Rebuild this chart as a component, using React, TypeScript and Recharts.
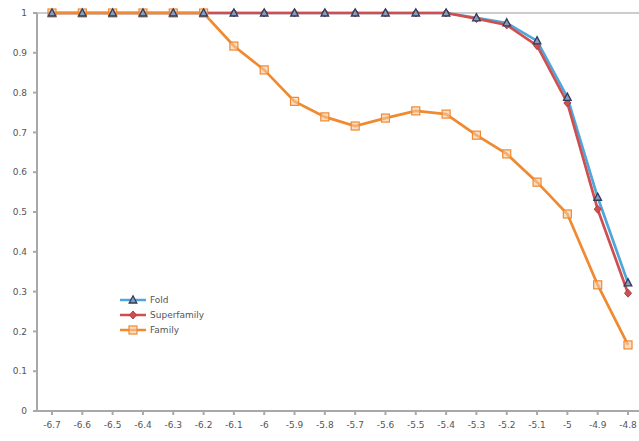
import React from "react";
import { LineChart, Line, XAxis, YAxis, ReferenceLine } from "recharts";

const categories = ["-6.7","-6.6","-6.5","-6.4","-6.3","-6.2","-6.1","-6","-5.9","-5.8","-5.7","-5.6","-5.5","-5.4","-5.3","-5.2","-5.1","-5","-4.9","-4.8"];
const fold = [1,1,1,1,1,1,1,1,1,1,1,1,1,1,0.988,0.975,0.93,0.788,0.537,0.322];
const superfamily = [1,1,1,1,1,1,1,1,1,1,1,1,1,1,0.986,0.97,0.918,0.774,0.507,0.296];
const family = [1,1,1,1,1,1,0.917,0.857,0.778,0.739,0.716,0.736,0.754,0.746,0.693,0.646,0.575,0.495,0.317,0.166];
const yTicks = [0,0.1,0.2,0.3,0.4,0.5,0.6,0.7,0.8,0.9,1];

const data = categories.map((c, i) => ({ x: c, fold: fold[i], superfamily: superfamily[i], family: family[i] }));

const BLUE = "#4ea6dc";
const RED = "#cf4f50";
const ORANGE = "#f0892f";

const Tri = (p: any) => {
  const { cx, cy } = p;
  if (cx == null || cy == null) return null;
  return <path d={`M${cx},${cy - 4.2} L${cx + 3.8},${cy + 3} L${cx - 3.8},${cy + 3} Z`} fill="#8a9ab8" stroke="#2e3d5c" strokeWidth={1.3} />;
};
const Dia = (p: any) => {
  const { cx, cy } = p;
  if (cx == null || cy == null) return null;
  return <path d={`M${cx},${cy - 4} L${cx + 3.5},${cy} L${cx},${cy + 4} L${cx - 3.5},${cy} Z`} fill={RED} stroke="#b04040" strokeWidth={1} />;
};
const Sq = (p: any) => {
  const { cx, cy } = p;
  if (cx == null || cy == null) return null;
  return <rect x={cx - 4} y={cy - 4} width={8} height={8} fill="#f6caa2" fillOpacity={0.6} stroke={ORANGE} strokeWidth={1.2} />;
};

const legendItems = [
  { name: "Fold", color: BLUE, M: Tri },
  { name: "Superfamily", color: RED, M: Dia },
  { name: "Family", color: ORANGE, M: Sq },
];

const LegendBox = () => (
  <svg width={110} height={48} style={{ position: "absolute", left: 118, top: 293 }}>
    {legendItems.map((it, i) => {
      const y = 7 + i * 15;
      const M = it.M;
      return (
        <g key={it.name}>
          <line x1={2} x2={28} y1={y} y2={y} stroke={it.color} strokeWidth={2.5} />
          <M cx={15} cy={y} />
          <text x={32} y={y + 3} fontSize={9} fill="#555" fontFamily="DejaVu Sans">{it.name}</text>
        </g>
      );
    })}
  </svg>
);

export default function App() {
  return (
    <div style={{ position: "absolute", left: 0, top: 0, width: 639, height: 441, overflow: "hidden", background: "#fff" }}>
      <LineChart width={639} height={441} data={data} margin={{ top: 13, right: 0, bottom: 8, left: 7 }}>
        <ReferenceLine y={1} stroke="#9a9a9a" strokeWidth={1.2} />
        <XAxis dataKey="x" stroke="#a8a8a8" strokeWidth={2} tickSize={4} tickMargin={7} height={22}
          padding={{ left: 15, right: 11 }}
          tick={{ fontSize: 9, fill: "#555", fontFamily: "DejaVu Sans" }} interval={0} />
        <YAxis type="number" domain={[0, 1]} ticks={yTicks} stroke="#a8a8a8" strokeWidth={2} tickSize={4} tickMargin={6} width={30}
          tick={{ fontSize: 9, fill: "#555", fontFamily: "DejaVu Sans" }} />
        <Line dataKey="fold" stroke={BLUE} strokeWidth={2.7} dot={false} isAnimationActive={false} />
        <Line dataKey="superfamily" stroke={RED} strokeWidth={2.7} dot={<Dia />} isAnimationActive={false} />
        <Line dataKey="family" stroke={ORANGE} strokeWidth={2.7} dot={<Sq />} isAnimationActive={false} />
        <Line dataKey="fold" stroke="none" dot={<Tri />} legendType="none" isAnimationActive={false} />
      </LineChart>
      <LegendBox />
    </div>
  );
}
